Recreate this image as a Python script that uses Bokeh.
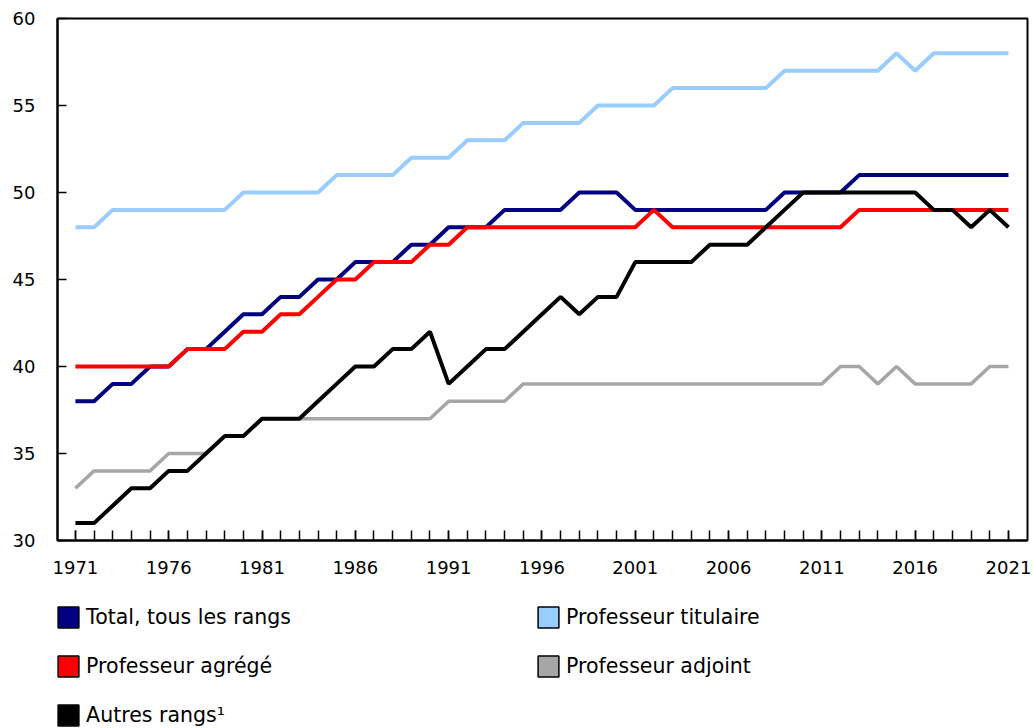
from bokeh.plotting import figure
from bokeh.models import Range1d, FixedTicker, Legend, LegendItem
from bokeh.layouts import column
from bokeh.embed import file_html
from bokeh.resources import INLINE

years = list(range(1971, 2022))

total = [38, 38, 39, 39, 40, 40, 41, 41, 42, 43,
         43, 44, 44, 45, 45, 46, 46, 46, 47, 47,
         48, 48, 48, 49, 49, 49, 49, 50, 50, 50,
         49, 49, 49, 49, 49, 49, 49, 49, 50, 50,
         50, 50, 51, 51, 51, 51, 51, 51, 51, 51, 51]

titulaire = [48, 48, 49, 49, 49, 49, 49, 49, 49, 50,
             50, 50, 50, 50, 51, 51, 51, 51, 52, 52,
             52, 53, 53, 53, 54, 54, 54, 54, 55, 55,
             55, 55, 56, 56, 56, 56, 56, 56, 57, 57,
             57, 57, 57, 57, 58, 57, 58, 58, 58, 58, 58]

agrege = [40, 40, 40, 40, 40, 40, 41, 41, 41, 42,
          42, 43, 43, 44, 45, 45, 46, 46, 46, 47,
          47, 48, 48, 48, 48, 48, 48, 48, 48, 48,
          48, 49, 48, 48, 48, 48, 48, 48, 48, 48,
          48, 48, 49, 49, 49, 49, 49, 49, 49, 49, 49]

adjoint = [33, 34, 34, 34, 34, 35, 35, 35, 36, 36,
           37, 37, 37, 37, 37, 37, 37, 37, 37, 37,
           38, 38, 38, 38, 39, 39, 39, 39, 39, 39,
           39, 39, 39, 39, 39, 39, 39, 39, 39, 39,
           39, 40, 40, 39, 40, 39, 39, 39, 39, 40, 40]

autres = [31, 31, 32, 33, 33, 34, 34, 35, 36, 36,
          37, 37, 37, 38, 39, 40, 40, 41, 41, 42,
          39, 40, 41, 41, 42, 43, 44, 43, 44, 44,
          46, 46, 46, 46, 47, 47, 47, 48, 49, 50,
          50, 50, 50, 50, 50, 50, 49, 49, 48, 49, 48]

labels = {"total": "Total, tous les rangs", "titulaire": "Professeur titulaire",
          "agrege": "Professeur agrégé", "adjoint": "Professeur adjoint",
          "autres": "Autres rangs\u00b9"}
series = {"total": total, "titulaire": titulaire, "agrege": agrege,
          "adjoint": adjoint, "autres": autres}
colors = {"total": "#000080", "titulaire": "#99CCFF", "agrege": "#FF0000",
          "adjoint": "#A6A6A6", "autres": "#000000"}

x_ticks = list(range(1971, 2022, 5))
y_ticks = [30, 35, 40, 45, 50, 55, 60]

FONT = "DejaVu Sans"

# ---------------- main chart ----------------
p = figure(width=1034, height=584, output_backend="svg", toolbar_location=None,
           x_range=Range1d(1970.04, 2022.02), y_range=Range1d(30, 60),
           min_border_left=57, min_border_right=7, min_border_top=18,
           min_border_bottom=44)

p.xgrid.visible = False
p.ygrid.visible = False
p.outline_line_color = "black"
p.outline_line_width = 2
p.outline_line_alpha = 1

# lines (drawing order: black on top)
widths = {"adjoint": 3.5, "titulaire": 4, "total": 4, "agrege": 4, "autres": 4}
for key in ["adjoint", "titulaire", "total", "agrege", "autres"]:
    p.line(years, series[key], line_color=colors[key], line_width=widths[key])

for ax in (p.xaxis, p.yaxis):
    ax.axis_line_color = "black"
    ax.axis_line_width = 2
    ax.major_tick_line_color = "black"
    ax.major_tick_line_width = 1.5
    ax.minor_tick_line_color = "black"
    ax.minor_tick_line_width = 1.5
    ax.major_tick_out = 0
    ax.minor_tick_out = 0
    ax.major_label_text_font = FONT
    ax.major_label_text_font_size = "18px"
    ax.major_label_text_color = "black"

p.xaxis.ticker = FixedTicker(ticks=x_ticks, minor_ticks=years)
p.xaxis.major_tick_in = 10
p.xaxis.minor_tick_in = 10
p.xaxis.major_label_standoff = 20

p.yaxis.ticker = FixedTicker(ticks=y_ticks, minor_ticks=[])
p.yaxis.major_tick_in = 9
p.yaxis.minor_tick_in = 0
p.yaxis.major_label_standoff = 22

# ---------------- legend panel ----------------
lg = figure(width=1034, height=144, output_backend="svg", toolbar_location=None,
            x_range=Range1d(0, 1), y_range=Range1d(0, 1),
            x_axis_location=None, y_axis_location=None,
            min_border=0, min_border_left=0, min_border_right=0,
            min_border_top=0, min_border_bottom=0)
lg.xgrid.visible = False
lg.ygrid.visible = False
lg.outline_line_color = None

# swatch renderers (zero-size quads from the data, out of view; only the legend shows them)
sw = {}
for key in ["total", "titulaire", "agrege", "adjoint", "autres"]:
    sw[key] = lg.quad(left=years, right=years, top=series[key], bottom=series[key],
                      fill_color=colors[key], line_color="black", line_width=1.5)

common = dict(orientation="vertical", glyph_width=26, glyph_height=26,
              label_height=26, spacing=23, padding=0, margin=0,
              border_line_color=None, background_fill_alpha=0,
              label_text_font=FONT, label_text_font_size="20.5px",
              label_text_color="black", label_standoff=5)

leg1 = Legend(items=[LegendItem(label=labels[k], renderers=[sw[k]])
                     for k in ["total", "agrege", "autres"]],
              location=(-1.9, 0), **common)
leg2 = Legend(items=[LegendItem(label=labels[k], renderers=[sw[k]])
                     for k in ["titulaire", "adjoint"]],
              location=(478.1, 49), **common)
lg.add_layout(leg1)
lg.add_layout(leg2)

layout = column(p, lg, spacing=0)
open("out.html", "w").write(file_html(layout, INLINE))
